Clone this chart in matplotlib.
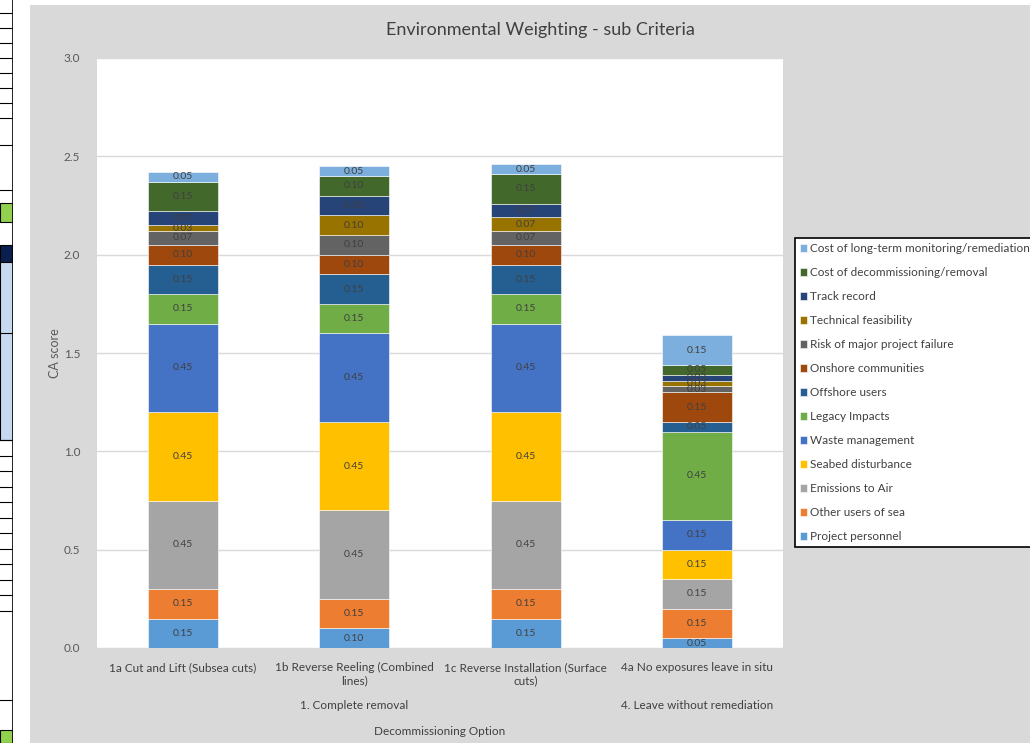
import numpy as np
import matplotlib
matplotlib.use("Agg")
import matplotlib.pyplot as plt
from matplotlib.patches import Rectangle

plt.rcParams["font.family"] = ["Lato", "DejaVu Sans"]

options = ["1a Cut and Lift (Subsea cuts)",
           "1b Reverse Reeling (Combined\nlines)",
           "1c Reverse Installation (Surface\ncuts)",
           "4a No exposures leave in situ"]
groups = ["1. Complete removal", "4. Leave without remediation"]
group_members = [[0, 1, 2], [3]]

criteria = ["Project personnel", "Other users of sea", "Emissions to Air",
            "Seabed disturbance", "Waste management", "Legacy Impacts",
            "Offshore users", "Onshore communities", "Risk of major project failure",
            "Technical feasibility", "Track record", "Cost of decommissioning/removal",
            "Cost of long-term monitoring/remediation"]
colors = ["#5B9BD5", "#ED7D31", "#A5A5A5", "#FFC000", "#4472C4", "#70AD47",
          "#255E91", "#9E480E", "#636363", "#997300", "#264478", "#43682B",
          "#7CAFDD"]

# one list per option, in criteria order
opt_1a = [0.15, 0.15, 0.45, 0.45, 0.45, 0.15, 0.15, 0.10, 0.07, 0.03, 0.07, 0.15, 0.05]
opt_1b = [0.10, 0.15, 0.45, 0.45, 0.45, 0.15, 0.15, 0.10, 0.10, 0.10, 0.10, 0.10, 0.05]
opt_1c = [0.15, 0.15, 0.45, 0.45, 0.45, 0.15, 0.15, 0.10, 0.07, 0.07, 0.07, 0.15, 0.05]
opt_4a = [0.05, 0.15, 0.15, 0.15, 0.15, 0.45, 0.05, 0.15, 0.03, 0.03, 0.03, 0.05, 0.15]

vals = np.array([opt_1a, opt_1b, opt_1c, opt_4a]).T

fig = plt.figure(figsize=(10.3, 7.43), dpi=100)
fig.patch.set_facecolor("white")

# chart area (grey) and bits of the spreadsheet on the left
bg = fig.add_axes([30 / 1030, 0, 1000 / 1030, 1 - 5 / 743], zorder=-5)
bg.set_facecolor("#D9D9D9")
bg.set_xticks([])
bg.set_yticks([])
for s in bg.spines.values():
    s.set_visible(False)

strip = fig.add_axes([0, 0, 13 / 1030, 1])
strip.set_xlim(0, 1)
strip.set_ylim(743, 0)
strip.axis("off")
for yy in [13, 28, 43, 58, 73, 88, 103, 118, 145, 190]:
    strip.axhline(yy, color="black", lw=0.8)
strip.add_patch(Rectangle((0, 203), 1, 19, facecolor="#92D050", edgecolor="black", lw=0.8))
strip.add_patch(Rectangle((0, 245), 1, 17, facecolor="#0B1F4F", edgecolor="black", lw=0.8))
strip.add_patch(Rectangle((0, 262), 1, 178, facecolor="#C5D9F1", edgecolor="black", lw=0.8))
strip.axhline(333, color="black", lw=0.8)
for yy in np.arange(440, 625, 15.5):
    strip.axhline(yy, color="black", lw=0.8)
strip.axhline(700, color="black", lw=0.8)
strip.add_patch(Rectangle((0, 730), 1, 13, facecolor="#92D050", edgecolor="black", lw=0.8))
strip.axvline(1, color="black", lw=1.2)

ax = fig.add_axes([97 / 1030, 1 - 648 / 743, 686 / 1030, 590 / 743])
ax.set_facecolor("white")

x = np.arange(len(options))
bottom = np.zeros(len(options))
handles = []
for i, name in enumerate(criteria):
    b = ax.bar(x, vals[i], 0.41, bottom=bottom, color=colors[i], label=name,
               edgecolor="white", linewidth=0.4, zorder=3)
    handles.append(b)
    for xi, v, bt in zip(x, vals[i], bottom):
        ax.text(xi, bt + v / 2, f"{v:.2f}", ha="center", va="center",
                fontsize=7.5, color="#404040", zorder=4)
    bottom += vals[i]

ax.set_xlim(-0.5, len(options) - 0.5)
ax.set_ylim(0, 3.0)
ax.set_yticks(np.arange(0, 3.01, 0.5))
ax.set_yticklabels([f"{t:.1f}" for t in np.arange(0, 3.01, 0.5)])
ax.yaxis.grid(True, color="#D9D9D9", lw=1, zorder=0)
ax.set_axisbelow(True)
for s in ax.spines.values():
    s.set_visible(False)
ax.tick_params(axis="both", length=0, labelsize=8.5, colors="#595959", pad=12)
ax.set_xticks(x)
ax.set_xticklabels(options, fontsize=8.5, color="#404040", linespacing=1.3)
ax.tick_params(axis="x", pad=10)
ax.set_ylabel("CA score", fontsize=9, color="#595959", labelpad=2)

for g, members in zip(groups, group_members):
    ax.text(np.mean(members), -0.098, g, transform=ax.get_xaxis_transform(),
            ha="center", va="center", fontsize=8.5, color="#404040")
ax.text(0.5, -0.1407, "Decommissioning Option", transform=ax.transAxes,
        ha="center", va="center", fontsize=8.5, color="#404040")

fig.text(540 / 1030, 1 - 30 / 743, "Environmental Weighting - sub Criteria",
         ha="center", va="center", fontsize=13, color="#404040")

leg = fig.legend(handles[::-1], criteria[::-1], loc="upper left",
                 bbox_to_anchor=(795 / 1030, 1 - 238 / 743), fontsize=8.5,
                 frameon=True, fancybox=False, edgecolor="black", framealpha=1,
                 facecolor="white", borderaxespad=0,
                 handlelength=0.6, handleheight=0.6, handletextpad=0.25,
                 labelspacing=1.1, borderpad=0.45, labelcolor="#404040")
leg.get_frame().set_linewidth(1.2)

fig.savefig("out.png", dpi=100)
